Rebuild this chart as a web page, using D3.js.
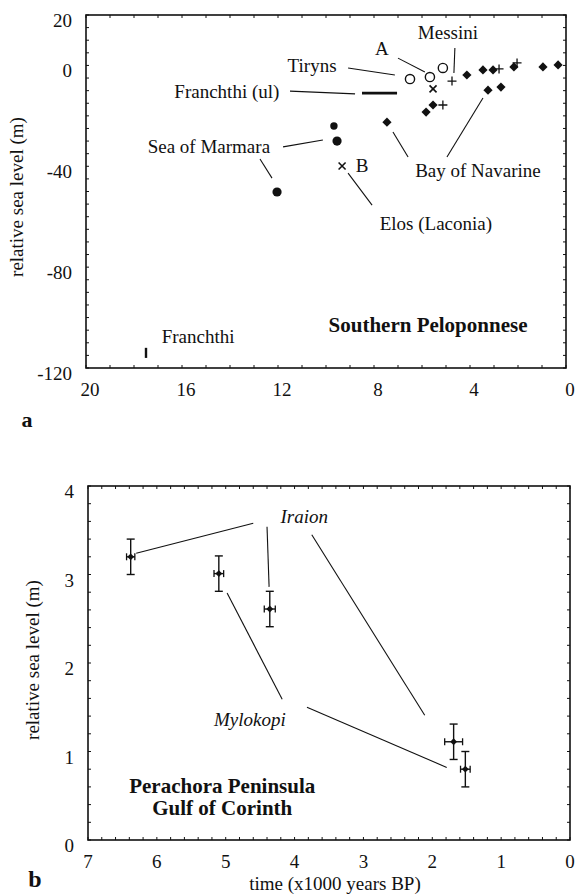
<!DOCTYPE html>
<html><head><meta charset="utf-8">
<script src="https://cdn.jsdelivr.net/npm/d3@7"></script>
<style>body{margin:0;background:#fff}svg text{font-family:"Liberation Serif","Times New Roman",serif;fill:#111}</style>
</head><body><svg id="c" width="575" height="894"></svg>
<script>
// ---------- Panel a: Southern Peloponnese (time in ka BP, relative sea level m)
const aXTicks = [20, 16, 12, 8, 4, 0];
const aYTicks = [20, 0, -40, -80, -120];
const navarine = [[4.13,-3.8],[3.46,-1.8],[3.04,-1.8],[2.17,-0.6],[0.96,-0.6],[0.33,0.2],[3.25,-9.8],[2.71,-8.6],[5.54,-15.7],[5.83,-18.5],[7.46,-22.5]];
const plusPts = [[4.75,-6.2],[2.79,-1.4],[2.04,1.0],[5.13,-15.7]];
const tirynsOpen = [[6.5,-5.4],[5.67,-4.6],[5.13,-1.0]];
const crossPts = [[5.54,-9.3],[9.33,-39.9]];
const marmaraSmall = [[9.67,-24.0]];
const marmaraLarge = [[9.54,-30.0],[12.04,-50.2]];
const franchthiUL = [[8.5,-11.0],[7.04,-11.0]];
const franchthiLow = [[17.5,-112],[17.5,-116]];
const aLabels = [
  {t:"Messini", x:4.92, y:12.9},
  {t:"A", x:7.67, y:6.9},
  {t:"Tiryns", x:10.58, y:-0.2},
  {t:"Franchthi (ul)", x:14.13, y:-10.2},
  {t:"Sea of Marmara", x:14.88, y:-32.3},
  {t:"B", x:8.5, y:-39.5},
  {t:"Elos (Laconia)", x:5.42, y:-62.5},
  {t:"Bay of Navarine", x:3.67, y:-41.5},
  {t:"Franchthi", x:15.33, y:-107.7},
  {t:"Southern Peloponnese", x:5.75, y:-103, bold:true}
];
const aLeaders = [
  [[9.08,-1.0],[7.13,-3.8]],
  [[7.0,2.9],[5.88,-2.6]],
  [[4.63,6.9],[4.67,-3.0]],
  [[11.5,-10.2],[8.79,-11.3]],
  [[11.79,-32.3],[10.13,-29.6]],
  [[12.75,-37.1],[12.25,-44.7]],
  [[9.08,-42.7],[8.08,-55.4]],
  [[7.21,-26.4],[6.58,-36.3]],
  [[4.96,-36.3],[3.46,-12.9]]
];

// ---------- Panel b: Perachora Peninsula, Gulf of Corinth
const bXTicks = [7,6,5,4,3,2,1,0];
const bYTicks = [0,1,2,3,4];
const bAge =    [6.38, 5.10, 4.36, 1.69, 1.52];
const bLevel =  [3.20, 3.01, 2.61, 1.11, 0.80];
const bAgeErr = [0.06, 0.07, 0.08, 0.13, 0.07];
const bLevErr = [0.20, 0.20, 0.20, 0.20, 0.20];
const bLabels = [
  {t:"Iraion", x:3.86, y:3.66, it:true},
  {t:"Mylokopi", x:4.65, y:1.36, it:true},
  {t:"Perachora Peninsula", x:5.05, y:0.61, bold:true},
  {t:"Gulf of Corinth", x:5.05, y:0.36, bold:true}
];
const bLeaders = [
  [[6.30,3.24],[4.60,3.58]],
  [[4.40,3.54],[4.37,2.86]],
  [[3.75,3.45],[2.11,1.41]],
  [[4.98,2.79],[4.18,1.59]],
  [[3.82,1.50],[1.79,0.82]]
];

const svg = d3.select("#c");
const FS = 19;

function frame(g, x, y, xTicks, yTicks, xMinor, yMinor, xlabOff) {
  const x0 = Math.min(...x.range()), x1 = Math.max(...x.range());
  const yB = Math.max(...y.range()), yT = Math.min(...y.range());
  xMinor.forEach(v => {
    const px = x(v);
    g.append("line").attr("x1",px).attr("x2",px).attr("y1",yB).attr("y2",yB-3).attr("stroke","#111");
    g.append("line").attr("x1",px).attr("x2",px).attr("y1",yT).attr("y2",yT+3).attr("stroke","#111");
  });
  yMinor.forEach(v => {
    const py = y(v);
    g.append("line").attr("x1",x0).attr("x2",x0+3).attr("y1",py).attr("y2",py).attr("stroke","#111");
    g.append("line").attr("x1",x1).attr("x2",x1-3).attr("y1",py).attr("y2",py).attr("stroke","#111");
  });
  g.append("rect").attr("x",x0).attr("y",yT).attr("width",x1-x0).attr("height",yB-yT)
    .attr("fill","none").attr("stroke","#111").attr("stroke-width",1.6);
  xTicks.forEach(v => g.append("text").attr("x",x(v)+xlabOff).attr("y",yB+28).attr("text-anchor","middle")
    .attr("font-size",FS).text(v));
  yTicks.forEach(v => g.append("text").attr("x",x0-14).attr("y",y(v)+12).attr("text-anchor","end")
    .attr("font-size",FS).text(v));
}

// ===== Panel a
const xa = d3.scaleLinear().domain([20,0]).range([86,566]);
const ya = d3.scaleLinear().domain([20,-120]).range([15,368]);
const ga = svg.append("g");
frame(ga, xa, ya, aXTicks, aYTicks, d3.range(0,21,1), d3.range(-120,21,5), 4);
ga.append("text").attr("transform","translate(23,197) rotate(-90)").attr("text-anchor","middle")
  .attr("font-size",FS).text("relative sea level (m)");
ga.append("text").attr("x",27).attr("y",427).attr("text-anchor","middle").attr("font-size",22)
  .attr("font-weight","bold").text("a");

aLeaders.forEach(l => ga.append("line").attr("x1",xa(l[0][0])).attr("y1",ya(l[0][1]))
  .attr("x2",xa(l[1][0])).attr("y2",ya(l[1][1])).attr("stroke","#111").attr("stroke-width",1.1));
aLabels.forEach(l => ga.append("text").attr("x",xa(l.x)).attr("y",ya(l.y)+6.5).attr("text-anchor","middle")
  .attr("font-size", l.bold?21:FS).attr("font-weight",l.bold?"bold":"normal").text(l.t));

const diamond = "M0,-4.6L4.6,0L0,4.6L-4.6,0Z";
ga.selectAll(".dia").data(navarine).join("path").attr("d",diamond)
  .attr("transform",d=>`translate(${xa(d[0])},${ya(d[1])})`).attr("fill","#111");
ga.selectAll(".pl").data(plusPts).join("path").attr("d","M-4.5,0H4.5M0,-4.5V4.5")
  .attr("transform",d=>`translate(${xa(d[0])},${ya(d[1])})`).attr("stroke","#111").attr("stroke-width",1.3);
ga.selectAll(".oc").data(tirynsOpen).join("circle").attr("cx",d=>xa(d[0])).attr("cy",d=>ya(d[1]))
  .attr("r",4.6).attr("fill","#fff").attr("stroke","#111").attr("stroke-width",1.4);
ga.selectAll(".cr").data(crossPts).join("path").attr("d","M-3.5,-3.5L3.5,3.5M-3.5,3.5L3.5,-3.5")
  .attr("transform",d=>`translate(${xa(d[0])},${ya(d[1])})`).attr("stroke","#111").attr("stroke-width",1.6);
ga.selectAll(".ms").data(marmaraSmall).join("circle").attr("cx",d=>xa(d[0])).attr("cy",d=>ya(d[1]))
  .attr("r",3.7).attr("fill","#111");
ga.selectAll(".ml").data(marmaraLarge).join("circle").attr("cx",d=>xa(d[0])).attr("cy",d=>ya(d[1]))
  .attr("r",4.6).attr("fill","#111");
ga.append("line").attr("x1",xa(franchthiUL[0][0])).attr("x2",xa(franchthiUL[1][0]))
  .attr("y1",ya(franchthiUL[0][1])).attr("y2",ya(franchthiUL[1][1])).attr("stroke","#111").attr("stroke-width",2.6);
ga.append("line").attr("x1",xa(franchthiLow[0][0])).attr("x2",xa(franchthiLow[1][0]))
  .attr("y1",ya(franchthiLow[0][1])).attr("y2",ya(franchthiLow[1][1])).attr("stroke","#111").attr("stroke-width",2.4);

// ===== Panel b
const xb = d3.scaleLinear().domain([7,0]).range([88,570]);
const yb = d3.scaleLinear().domain([0,4]).range([840,486]);
const gb = svg.append("g");
frame(gb, xb, yb, bXTicks, bYTicks, d3.range(0,7.01,0.2), d3.range(0,4.01,0.2), 0);
gb.append("text").attr("transform","translate(39,660) rotate(-90)").attr("text-anchor","middle")
  .attr("font-size",FS).text("relative sea level (m)");
gb.append("text").attr("x",335).attr("y",890).attr("text-anchor","middle").attr("font-size",FS)
  .text("time (x1000 years BP)");
gb.append("text").attr("x",35).attr("y",887).attr("text-anchor","middle").attr("font-size",24)
  .attr("font-weight","bold").text("b");

bLeaders.forEach(l => gb.append("line").attr("x1",xb(l[0][0])).attr("y1",yb(l[0][1]))
  .attr("x2",xb(l[1][0])).attr("y2",yb(l[1][1])).attr("stroke","#111").attr("stroke-width",1.1));
bLabels.forEach(l => gb.append("text").attr("x",xb(l.x)).attr("y",yb(l.y)+6.5).attr("text-anchor","middle")
  .attr("font-size", l.bold?21:FS).attr("font-weight",l.bold?"bold":"normal")
  .attr("font-style",l.it?"italic":"normal").text(l.t));

const pts = bAge.map((a,i)=>({a, l:bLevel[i], ea:bAgeErr[i], el:bLevErr[i]}));
const eb = gb.selectAll(".eb").data(pts).join("g");
eb.append("line").attr("x1",d=>xb(d.a)).attr("x2",d=>xb(d.a)).attr("y1",d=>yb(d.l-d.el)).attr("y2",d=>yb(d.l+d.el))
  .attr("stroke","#111").attr("stroke-width",1.4);
eb.append("line").attr("x1",d=>xb(d.a)-4).attr("x2",d=>xb(d.a)+4).attr("y1",d=>yb(d.l+d.el)).attr("y2",d=>yb(d.l+d.el))
  .attr("stroke","#111").attr("stroke-width",1.4);
eb.append("line").attr("x1",d=>xb(d.a)-4).attr("x2",d=>xb(d.a)+4).attr("y1",d=>yb(d.l-d.el)).attr("y2",d=>yb(d.l-d.el))
  .attr("stroke","#111").attr("stroke-width",1.4);
eb.append("line").attr("x1",d=>xb(d.a+d.ea)).attr("x2",d=>xb(d.a-d.ea)).attr("y1",d=>yb(d.l)).attr("y2",d=>yb(d.l))
  .attr("stroke","#111").attr("stroke-width",1.4);
eb.append("line").attr("x1",d=>xb(d.a+d.ea)).attr("x2",d=>xb(d.a+d.ea)).attr("y1",d=>yb(d.l)-3.5).attr("y2",d=>yb(d.l)+3.5)
  .attr("stroke","#111").attr("stroke-width",1.3);
eb.append("line").attr("x1",d=>xb(d.a-d.ea)).attr("x2",d=>xb(d.a-d.ea)).attr("y1",d=>yb(d.l)-3.5).attr("y2",d=>yb(d.l)+3.5)
  .attr("stroke","#111").attr("stroke-width",1.3);
eb.append("path").attr("d","M0,-3.4L3.4,0L0,3.4L-3.4,0Z").attr("transform",d=>`translate(${xb(d.a)},${yb(d.l)})`)
  .attr("fill","#111");
</script></body></html>
